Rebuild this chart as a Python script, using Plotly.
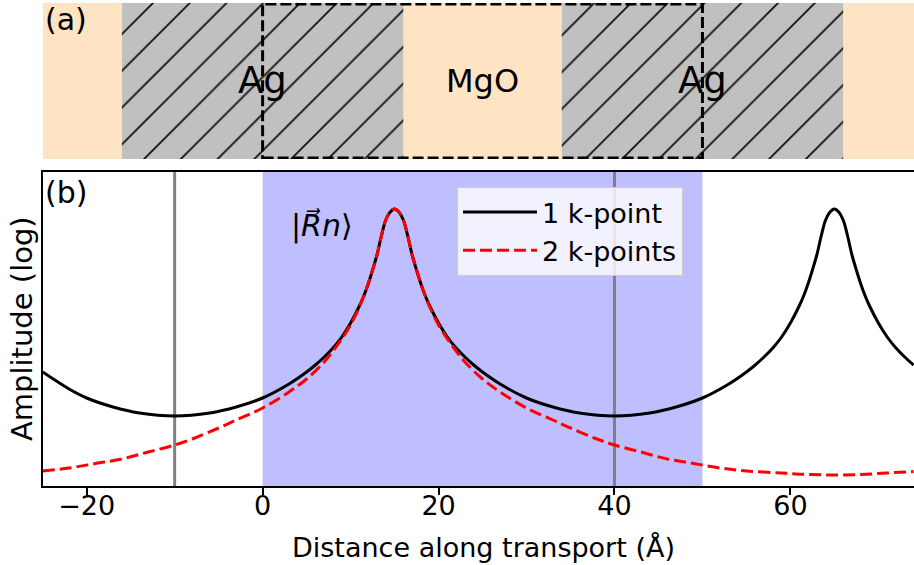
import plotly.graph_objects as go

# ---------------- Panel (b): amplitude (log, arbitrary units) ----------------
black_x = [-25, -22, -20, -17, -14, -10, -6, -3, 0, 3, 5, 6, 7, 8, 9, 10, 11, 11.5, 12, 12.5,
           13, 13.5, 14, 14.5, 15, 15.5, 16, 16.5, 17, 17.5, 18, 18.5, 19, 20, 21, 22, 23, 24,
           25, 27, 30, 33, 36, 40, 44, 47, 50, 53, 55, 56, 57, 58, 59, 60, 61, 61.5, 62, 62.5,
           63, 63.5, 64, 64.5, 65, 65.5, 66, 66.5, 67, 67.5, 68, 68.5, 69, 70, 71, 72, 73, 74]
black_y = [114, 97, 88, 79, 73, 70, 73, 79, 88, 102, 114, 121, 129, 138, 149, 163, 180, 190, 202, 216,
           231, 250, 266, 274, 277, 274, 266, 250, 231, 216, 202, 190, 180, 163, 149, 138, 129, 121,
           114, 102, 88, 79, 73, 70, 73, 79, 88, 102, 114, 121, 129, 138, 149, 163, 180, 190, 202, 216,
           231, 250, 266, 274, 277, 274, 266, 250, 231, 216, 202, 190, 180, 163, 149, 138, 129, 121]

red_x = [-25, -22, -19, -16, -13, -10, -8, -5, -3, 0, 3, 5, 7, 8, 9, 10, 11, 11.5, 12, 12.5,
         13, 13.5, 14, 14.5, 15, 15.5, 16, 16.5, 17, 17.5, 18, 18.5, 19, 20, 21, 22, 23, 25,
         27, 30, 33, 35, 38, 40, 43, 46, 49, 52, 55, 59, 62, 65, 68, 71, 74]
red_y = [15, 18, 22.5, 27, 34, 41, 47, 58, 66, 78, 94, 107, 124, 135, 147, 161, 179, 190, 202, 216,
         231, 250, 266, 274, 277, 274, 266, 250, 231, 216, 202, 190, 179, 161, 147, 135, 124, 107,
         94, 78, 66, 58, 47, 41, 34, 27, 22.5, 18, 15, 13, 11.5, 11, 11.5, 13, 14.5]

x_ticks = [-20, 0, 20, 40, 60]
x_range = [-25, 74.05]
y_range = [0, 314]
gray_lines_x = [-10, 40]
shade_span = [0, 50]

# ---------------- Panel (a): layer structure ----------------
layer_start = [-25, -16, 16, 34, 66]
layer_end = [-16, 16, 34, 66, 75]
layer_is_ag = [False, True, False, True, False]
layer_labels = ["Ag", "MgO", "Ag"]
layer_label_x = [0, 25, 50]
cell_span = [0, 50]

FONT = "DejaVu Sans"
W, H = 914, 565
left_px = 42.7
xdom = [left_px / W, 1.0]
ydom_b = [(H - 486) / H, (H - 172) / H]
ydom_a = [(H - 159) / H, (H - 3) / H]

fig = go.Figure()

mg_x = [(s + e) / 2 for s, e, a in zip(layer_start, layer_end, layer_is_ag) if not a]
mg_w = [(e - s) for s, e, a in zip(layer_start, layer_end, layer_is_ag) if not a]
ag_x = [(s + e) / 2 for s, e, a in zip(layer_start, layer_end, layer_is_ag) if a]
ag_w = [(e - s) for s, e, a in zip(layer_start, layer_end, layer_is_ag) if a]

fig.add_trace(go.Bar(x=mg_x, y=[1] * len(mg_x), width=mg_w, base=0,
                     marker=dict(color="#FFE4C4", line=dict(width=0)),
                     xaxis="x2", yaxis="y2", showlegend=False, hoverinfo="skip"))
fig.add_trace(go.Bar(x=ag_x, y=[1] * len(ag_x), width=ag_w, base=0,
                     marker=dict(color="#C0C0C0", line=dict(width=0),
                                 pattern=dict(shape="/", fgcolor="#111111", bgcolor="#C0C0C0",
                                              fillmode="replace", size=26, solidity=0.07)),
                     xaxis="x2", yaxis="y2", showlegend=False, hoverinfo="skip"))

fig.add_trace(go.Scatter(x=black_x, y=black_y, mode="lines", name="1 k-point",
                         line=dict(color="black", width=3, shape="spline", smoothing=1.0)))
fig.add_trace(go.Scatter(x=red_x, y=red_y, mode="lines", name="2 k-points",
                         line=dict(color="red", width=3, dash="12px,5px", shape="spline", smoothing=1.0)))

shapes = []
shapes.append(dict(type="rect", xref="x", yref="y", x0=shade_span[0], x1=shade_span[1],
                   y0=y_range[0], y1=y_range[1], fillcolor="rgba(0,0,255,0.25)",
                   line=dict(width=0), layer="below"))
for gx in gray_lines_x:
    shapes.append(dict(type="line", xref="x", yref="y", x0=gx, x1=gx, y0=y_range[0], y1=y_range[1],
                       line=dict(color="#808080", width=3), layer="below"))
shapes.append(dict(type="rect", xref="x2", yref="y2", x0=cell_span[0], x1=cell_span[1],
                   y0=0.006, y1=0.994, fillcolor="rgba(0,0,0,0)",
                   line=dict(color="black", width=3, dash="11px,4px"), layer="above"))

annotations = []
for lab, lx in zip(layer_labels, layer_label_x):
    annotations.append(dict(x=lx, y=0.5, xref="x2", yref="y2", text=lab, showarrow=False,
                            font=dict(family=FONT, size=37 if lab == "Ag" else 32, color="black"),
                            xanchor="center", yanchor="middle"))
annotations.append(dict(x=left_px / W, y=1.0, xref="paper", yref="paper", text="(a)", showarrow=False,
                        font=dict(family=FONT, size=30, color="black"), xanchor="left", yanchor="top"))
annotations.append(dict(x=left_px / W, y=ydom_b[1], xref="paper", yref="paper", text="(b)", showarrow=False,
                        font=dict(family=FONT, size=30, color="black"), xanchor="left", yanchor="top",
                        yshift=-1))
annotations.append(dict(x=6.7, y=260, xref="x", yref="y", text="|<i>R\u20d7n</i>\u27e9", showarrow=False,
                        font=dict(family=FONT, size=30, color="black"), xanchor="center", yanchor="middle"))
annotations.append(dict(x=22 / W, y=(ydom_b[0] + ydom_b[1]) / 2, xref="paper", yref="paper",
                        text="Amplitude (log)", textangle=-90, showarrow=False,
                        font=dict(family=FONT, size=29, color="black"), xanchor="center", yanchor="middle"))
annotations.append(dict(x=483 / W, y=(H - 547) / H, xref="paper", yref="paper",
                        text="Distance along transport (Å)", showarrow=False,
                        font=dict(family=FONT, size=27, color="black"), xanchor="center", yanchor="middle"))

fig.update_layout(
    width=W, height=H,
    margin=dict(l=0, r=0, t=0, b=0),
    paper_bgcolor="white", plot_bgcolor="white",
    barmode="overlay",
    font=dict(family=FONT, size=27, color="black"),
    xaxis=dict(domain=xdom, range=x_range, tickvals=x_ticks, ticks="outside", ticklen=7, tickwidth=2,
               tickcolor="black", showline=True, linewidth=2, linecolor="black", mirror=True,
               showgrid=False, zeroline=False, anchor="y", ticklabelstandoff=-12,
               tickfont=dict(family=FONT, size=27, color="black")),
    yaxis=dict(domain=ydom_b, range=y_range, showticklabels=False, ticks="", showline=True, linewidth=2,
               linecolor="black", showgrid=False, zeroline=False, anchor="x"),
    xaxis2=dict(domain=xdom, range=x_range, visible=False, anchor="y2"),
    yaxis2=dict(domain=ydom_a, range=[0, 1], visible=False, anchor="x2"),
    legend=dict(x=457 / W, y=(H - 187) / H, xanchor="left", yanchor="top",
                bgcolor="rgba(255,255,255,0.8)", bordercolor="#cccccc", borderwidth=1,
                font=dict(family=FONT, size=27, color="black"), itemwidth=74),
    shapes=shapes, annotations=annotations,
)

fig.write_html("out.html", config={"displayModeBar": False},
               post_script="document.body.style.margin='0px';")
